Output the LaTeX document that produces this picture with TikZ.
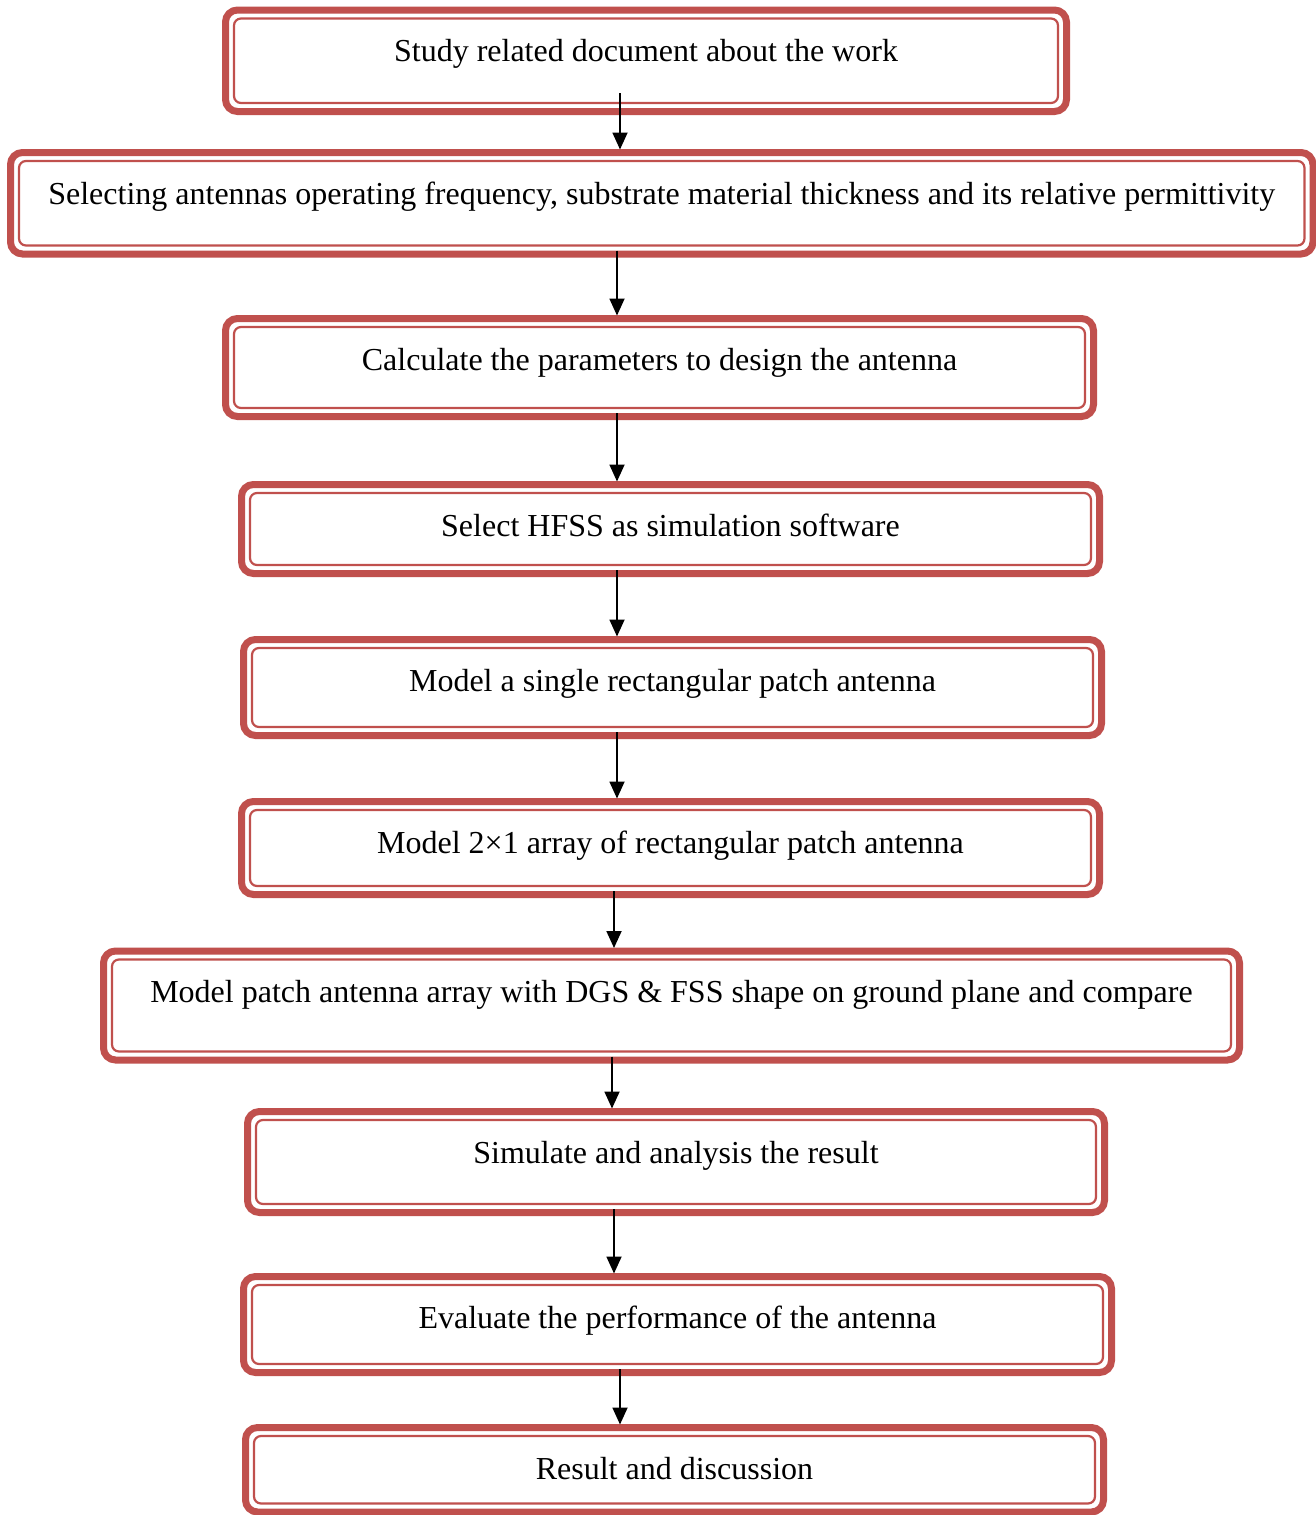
\documentclass[tikz,border=0pt]{standalone}
\usepackage{fontspec}
\setmainfont{Liberation Serif}
\usetikzlibrary{arrows.meta,calc}
\definecolor{boxred}{HTML}{C0504D}
\newcommand\flowbox[6]{%
  \node[frame,minimum width={#4-#2},minimum height={#5-#3},anchor=north west] (#1) at (#2,#3) {};
  \draw[innerframe] ([shift={(8.5,8.5)}]#1.north west) rectangle ([shift={(-8.5,-8.5)}]#1.south east);
  \node[lbl] (#1t) at ($(#1.north)+(0,51.5)$) {#6};
}
\begin{document}
\begin{tikzpicture}[x=1pt,y=-1pt,
  frame/.style={draw=boxred,line width=7pt,rounded corners=12pt,inner sep=0pt,outer sep=0pt},
  innerframe/.style={draw=boxred,line width=2.2pt,rounded corners=7pt},
  lbl/.style={font=\fontsize{32}{38}\selectfont,inner sep=0pt,outer sep=0pt,anchor=base},
  arr/.style={line width=1.8pt,-{Triangle[width=15pt,length=17pt]},shorten >=3pt}]
\fill[white] (0,0) rectangle (1316,1515);
\useasboundingbox (0,0) rectangle (1316,1515);
\flowbox{b1}{225.5}{10}{1066.5}{111.5}{Study related document about the work}
\flowbox{b2}{10.5}{152.5}{1313}{254}{Selecting antennas operating frequency, substrate material thickness and its relative permittivity}
\flowbox{b3}{225.5}{318.5}{1093.5}{416.5}{Calculate the parameters to design the antenna}
\flowbox{b4}{241.5}{484.5}{1099.5}{573.5}{Select HFSS as simulation software}
\flowbox{b5}{243.5}{639.5}{1101.5}{735.5}{Model a single rectangular patch antenna}
\flowbox{b6}{241.5}{801.5}{1099.5}{894.5}{Model 2×1 array of rectangular patch antenna}
\flowbox{b7}{103.5}{951}{1239.5}{1060}{Model patch antenna array with DGS \& FSS shape on ground plane and compare}
\flowbox{b8}{247.5}{1111.5}{1104.5}{1212.5}{Simulate and analysis the result}
\flowbox{b9}{243.5}{1276.5}{1111.5}{1372.5}{Evaluate the performance of the antenna}
\flowbox{b10}{245.5}{1427.5}{1103.5}{1512}{Result and discussion}
\coordinate (x1) at (620,0);
\coordinate (x2) at (617,0);
\coordinate (x6) at (614,0);
\coordinate (x7) at (612,0);
\coordinate (x9) at (620,0);
\draw[arr] ($(b1.south -| x1)+(0,-18.5)$) -- (b2.north -| x1);
\draw[arr] ($(b2.south -| x2)+(0,-3.5)$) -- (b3.north -| x2);
\draw[arr] ($(b3.south -| x2)+(0,-3.5)$) -- (b4.north -| x2);
\draw[arr] ($(b4.south -| x2)+(0,-3.5)$) -- (b5.north -| x2);
\draw[arr] ($(b5.south -| x2)+(0,-3.5)$) -- (b6.north -| x2);
\draw[arr] ($(b6.south -| x6)+(0,-3.5)$) -- (b7.north -| x6);
\draw[arr] ($(b7.south -| x7)+(0,-3.5)$) -- (b8.north -| x7);
\draw[arr] ($(b8.south -| x6)+(0,-3.5)$) -- (b9.north -| x6);
\draw[arr] ($(b9.south -| x9)+(0,-3.5)$) -- (b10.north -| x9);
\end{tikzpicture}
\end{document}
